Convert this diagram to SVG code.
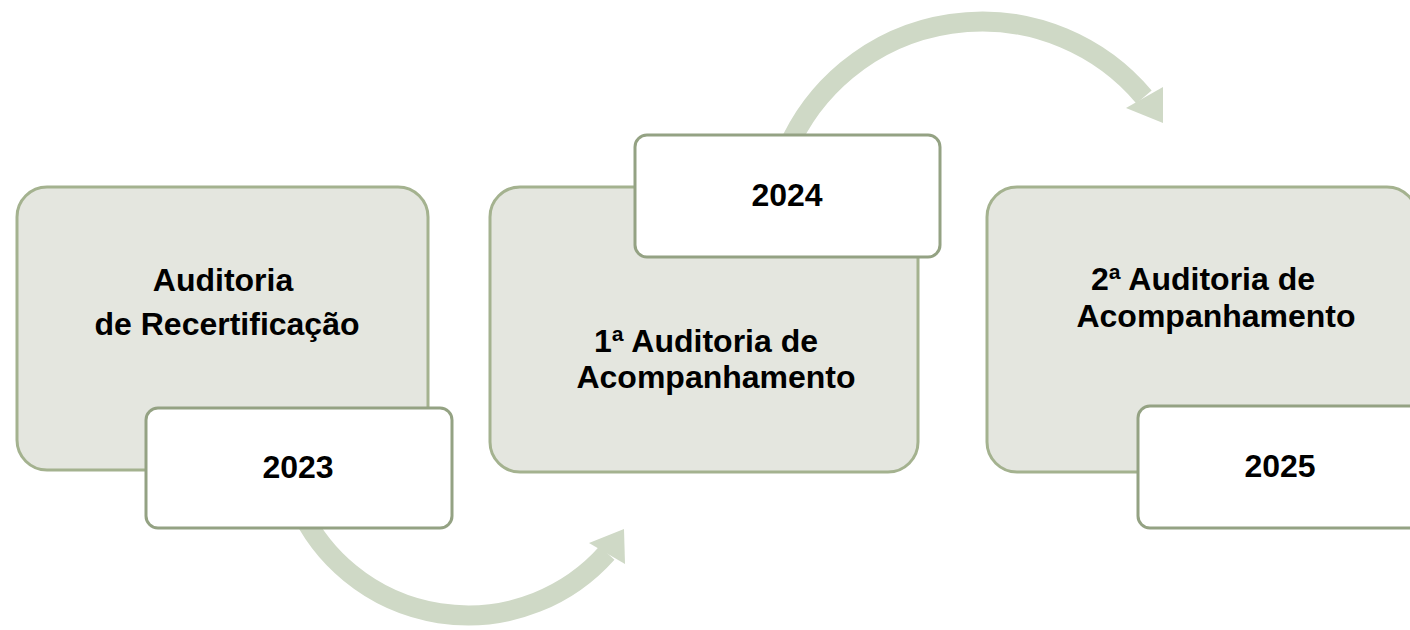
<svg xmlns="http://www.w3.org/2000/svg" width="1410" height="630" viewBox="0 0 1410 630">
  <style>
    .big { fill: #e4e6df; stroke: #a4b28f; stroke-width: 3; }
    .small { fill: #ffffff; stroke: #94a283; stroke-width: 3; }
    .band { fill: none; stroke: #cfd9c6; stroke-width: 20; }
    .head { fill: #cfd9c6; stroke: none; }
    text { font-family: "Liberation Sans", Arial, sans-serif; font-weight: bold; font-size: 32px; fill: #000000; text-anchor: middle; }
  </style>
  <rect width="1410" height="630" fill="#ffffff"/>
  <g id="connectors">
    <path class="band" d="M 298 505 A 186 186 0 0 0 607 553"/>
    <polygon class="head" points="589,543 624,529 625,564"/>
    <path class="band" d="M 787 150 A 212 212 0 0 1 1144 97"/>
    <polygon class="head" points="1126,108 1163,87 1163,123"/>
  </g>
  <g id="node-2023">
    <rect class="big" x="17" y="187" width="411" height="283" rx="30" ry="30"/>
    <text x="223" y="291">Auditoria</text>
    <text x="227" y="335">de Recertificação</text>
    <rect class="small" x="146" y="408" width="306" height="120" rx="12" ry="12"/>
    <text x="298" y="478">2023</text>
  </g>
  <g id="node-2024">
    <rect class="big" x="490" y="187" width="428" height="285" rx="30" ry="30"/>
    <text x="706" y="352">1ª Auditoria de</text>
    <text x="716" y="388">Acompanhamento</text>
    <rect class="small" x="635" y="135" width="305" height="122" rx="12" ry="12"/>
    <text x="787" y="206">2024</text>
  </g>
  <g id="node-2025">
    <rect class="big" x="987" y="187" width="430" height="285" rx="30" ry="30"/>
    <text x="1203" y="290">2ª Auditoria de</text>
    <text x="1216" y="327">Acompanhamento</text>
    <rect class="small" x="1138" y="406" width="305" height="122" rx="12" ry="12"/>
    <text x="1280" y="477">2025</text>
  </g>
</svg>
